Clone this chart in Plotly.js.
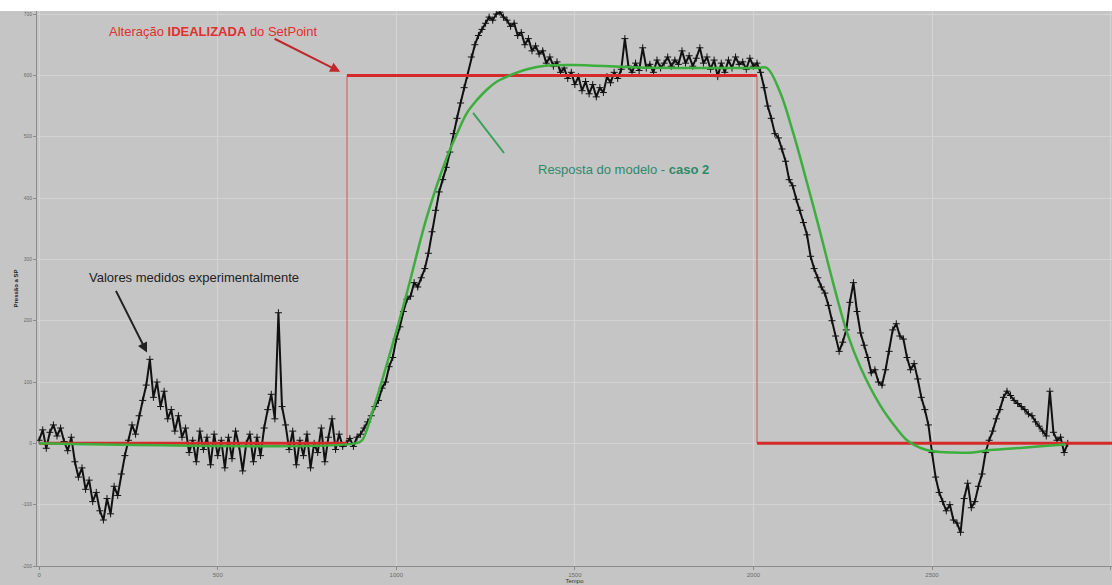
<!DOCTYPE html>
<html>
<head>
<meta charset="utf-8">
<script src="https://cdn.plot.ly/plotly-3.0.1.min.js"></script>
<style>html,body{margin:0;padding:0;background:#c5c5c5;}#chart{width:1112px;height:585px;}</style>
</head>
<body>
<div id="chart"></div>
<script>
// ---- data ----
const sampleStep = 10;           // sampling interval of the measured series
const measuredValues = [
  // t 0-90
  5, 22, -8, 18, 30, 12, 25, 3, -12, 10,
  // t 100-230
  -30, -55, -40, -75, -60, -95, -80, -110, -125, -90, -115, -70, -85, -50,
  // t 240-400
  -20, 5, 30, 15, 45, 70, 95, 137, 75, 100, 60, 85, 40, 55, 20, 45, 10,
  // t 410-850
  25, -15, 5, -30, 20, -10, 10, -35, 15, -20, 5, -40, 10, -25, 20, -5, -45, 0, 15, -30,
  10, -20, 25, 55, 80, 40, 213, 60, 30, -10, 20, -35, 5, -20, 15, -40, 0, -15, 25, -30,
  10, 40, -10, 15, -5,
  // t 860-900
  0, 8, -5, 10, 15,
  // t 910-1300
  25, 35, 45, 60, 70, 90, 100, 125, 140, 170, 190, 215, 235, 240, 262, 255, 270, 285, 310, 345,
  380, 410, 430, 450, 475, 505, 530, 555, 580, 600, 630, 650, 665, 675, 685, 695, 690, 700, 703, 695,
  // t 1310-2010
  690, 680, 685, 665, 670, 650, 660, 640, 648, 635, 640, 620, 630, 615, 622, 605, 612, 595, 605, 585,
  598, 575, 590, 570, 585, 565, 580, 572, 598, 588, 605, 595, 610, 660, 615, 605, 620, 608, 645, 612,
  618, 605, 625, 612, 620, 630, 615, 625, 618, 640, 620, 632, 615, 628, 645, 620, 630, 610, 625, 598,
  620, 605, 625, 612, 630, 618, 622, 610, 628, 615, 620,
  // t 2020-2880
  605, 580, 550, 530, 505, 498, 480, 460, 430, 420, 398, 380, 360, 340, 305, 285, 270, 255, 245, 225,
  200, 175, 150, 165, 185, 230, 262, 215, 180, 160, 140, 115, 120, 100, 95, 120, 150, 185, 195, 175,
  170, 140, 120, 130, 105, 75, 55, 30, -15, -55, -80, -95, -110, -100, -125, -130, -145, -90, -65, -105,
  -95, -70, -50, -15, 5, 20, 40, 55, 75, 85, 78, 70, 65, 60, 55, 48, 45, 35, 28, 20,
  12, 85, 18, 5, 10, -15, 0
];
const measuredTimes = measuredValues.map((_, i) => i * sampleStep);

const modelTimes  = [0, 885, 904, 935, 983, 1030, 1086, 1142, 1170, 1198, 1226, 1254, 1282, 1310, 1366, 1422, 1495, 1683, 2010,
                     2038, 2075, 2111, 2150, 2187, 2223, 2262, 2299, 2355, 2400, 2430, 2470, 2503, 2560, 2615, 2663, 2755, 2822, 2873];
const modelValues = [0, 0, 5, 55, 148, 246, 370, 467, 505, 539, 560, 577, 590, 598, 610, 616, 617, 613, 612,
                     612, 572, 507, 425, 344, 262, 181, 125, 62, 25, 5, -8, -13, -15, -15, -11, -7, -4, -2];

const setpointTimes  = [0, 862, 2010, 3004];   // step times and end
const setpointValues = [0, 600, 0];            // level in each interval

const xTicks = [0, 500, 1000, 1500, 2000, 2500, 3000];
const yTicks = [-200, -100, 0, 100, 200, 300, 400, 500, 600, 700];

// ---- build setpoint traces ----
const spX = [], spY = [];
for (let i = 0; i < setpointValues.length; i++) {
  spX.push(setpointTimes[i], setpointTimes[i + 1], null);
  spY.push(setpointValues[i], setpointValues[i], null);
}
const stepX = [], stepY = [];
for (let i = 1; i < setpointValues.length; i++) {
  stepX.push(setpointTimes[i], setpointTimes[i], null);
  stepY.push(setpointValues[i - 1], setpointValues[i], null);
}

const traces = [
  {x: stepX, y: stepY, mode: 'lines', line: {color: '#d9534f', width: 1}, hoverinfo: 'skip'},
  {x: measuredTimes, y: measuredValues, mode: 'lines+markers',
   line: {color: '#111111', width: 2},
   marker: {symbol: 'cross-thin-open', size: 5, color: '#111111', line: {color: '#111111', width: 1}}},
  {x: spX, y: spY, mode: 'lines', line: {color: '#d42a2a', width: 3}},
  {x: modelTimes, y: modelValues, mode: 'lines', line: {color: '#3dae3d', width: 2.5, shape: 'spline', smoothing: 1}}
];

const layout = {
  width: 1112, height: 585,
  margin: {l: 37, r: 0, t: 11, b: 19},
  paper_bgcolor: '#c5c5c5', plot_bgcolor: '#c5c5c5',
  showlegend: false,
  font: {family: 'Liberation Sans, Arial, sans-serif'},
  xaxis: {
    range: [-6, 3004], tickvals: xTicks, ticktext: xTicks.map(String),
    showgrid: true, gridcolor: '#d3d3d3', gridwidth: 1, zeroline: false,
    showline: true, linecolor: '#8c8c8c', linewidth: 1,
    ticks: 'outside', ticklen: 3, tickcolor: '#8c8c8c',
    tickfont: {size: 6, color: '#6a6a6a'},
    title: {text: 'Tempo', font: {size: 6, color: '#333'}, standoff: 0}
  },
  yaxis: {
    range: [-200, 705], tickvals: yTicks, ticktext: yTicks.map(String),
    showgrid: true, gridcolor: '#d3d3d3', gridwidth: 1, zeroline: false,
    showline: true, linecolor: '#8c8c8c', linewidth: 1,
    ticks: 'outside', ticklen: 3, tickcolor: '#8c8c8c',
    tickfont: {size: 5, color: '#6a6a6a'},
    title: {text: '<b>Pressão a SP</b>', font: {size: 6, color: '#222'}, standoff: 2}
  },
  shapes: [
    {type: 'rect', xref: 'paper', yref: 'paper', x0: -0.05, x1: 1.05, y0: 1, y1: 1.03,
     fillcolor: '#ffffff', line: {width: 0}, layer: 'above'}
  ],
  annotations: [
    {x: 487, y: 671, xref: 'x', yref: 'y', showarrow: false,
     text: 'Alteração <b>IDEALIZADA</b> do SetPoint', font: {size: 13, color: '#e0302e'}},
    {x: 843, y: 606, ax: 655, ay: 661, axref: 'x', ayref: 'y', xref: 'x', yref: 'y',
     text: '', showarrow: true, arrowhead: 2, arrowsize: 1, arrowwidth: 2, arrowcolor: '#c0282a'},
    {x: 434, y: 270, xref: 'x', yref: 'y', showarrow: false,
     text: 'Valores medidos experimentalmente', font: {size: 13, color: '#222222'}},
    {x: 302, y: 148, ax: 213, ay: 251, axref: 'x', ayref: 'y', xref: 'x', yref: 'y',
     text: '', showarrow: true, arrowhead: 2, arrowsize: 1, arrowwidth: 2, arrowcolor: '#222222'},
    {x: 1635, y: 446, xref: 'x', yref: 'y', showarrow: false,
     text: 'Resposta do modelo - <b>caso 2</b>', font: {size: 13, color: '#2f8a68'}},
    {x: 1215, y: 539, ax: 1305, ay: 471, axref: 'x', ayref: 'y', xref: 'x', yref: 'y',
     text: '', showarrow: true, arrowhead: 0, arrowwidth: 2, arrowcolor: '#3aa05a'}
  ]
};

Plotly.newPlot('chart', traces, layout, {displayModeBar: false, staticPlot: true});
</script>
</body>
</html>
